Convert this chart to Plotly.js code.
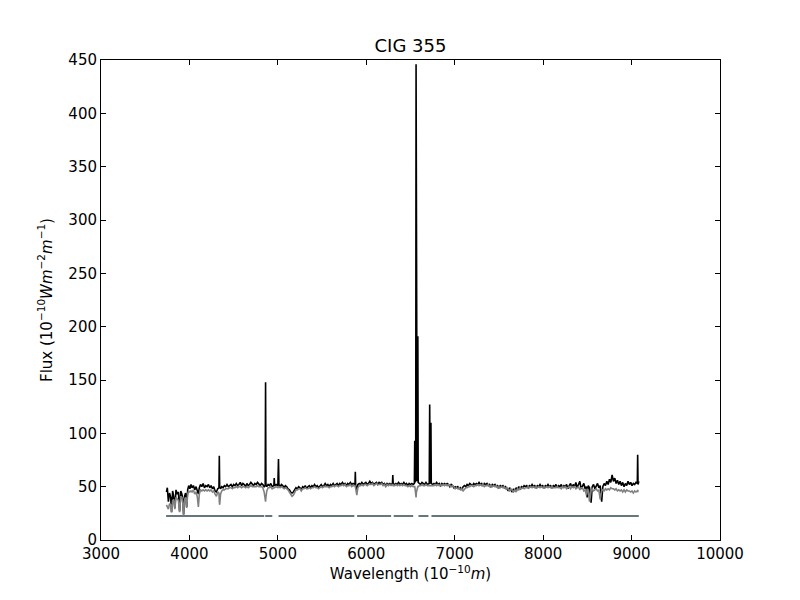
<!DOCTYPE html>
<html>
<head>
<meta charset="utf-8">
<script src="https://cdn.plot.ly/plotly-3.0.1.min.js"></script>
<style>html,body{margin:0;padding:0;background:#fff;}#chart{width:800px;height:600px;}</style>
</head>
<body>
<div id="chart"></div>
<script>
const wavelength = [3740,3750,3762,3775,3788,3798,3810,3822,3835,3848,3860,3875,3889,3902,3915,3925,3934,3945,3957,3969,3980,3992,4005,4018,4030,4045,4060,4075,4090,4101,4112,4125,4140,4155,4170,4185,4200,4215,4230,4245,4260,4275,4290,4305,4320,4334,4338,4342,4352,4365,4380,4395,4410,4425,4440,4455,4470,4485,4500,4515,4530,4545,4560,4575,4590,4605,4620,4635,4650,4665,4680,4695,4710,4725,4740,4755,4770,4785,4800,4815,4830,4845,4857,4861,4865,4875,4890,4905,4920,4935,4955,4959,4963,4980,5000,5007,5012,5025,5040,5055,5070,5085,5100,5115,5130,5145,5160,5175,5190,5205,5220,5235,5250,5265,5280,5295,5310,5325,5340,5355,5370,5385,5400,5415,5430,5445,5460,5475,5490,5505,5520,5535,5550,5565,5580,5595,5610,5625,5640,5655,5670,5685,5700,5715,5730,5745,5760,5775,5790,5805,5820,5835,5850,5872,5876,5880,5893,5905,5920,5935,5950,5965,5980,5995,6010,6025,6040,6055,6070,6085,6100,6115,6130,6145,6160,6175,6190,6205,6220,6235,6250,6265,6280,6296,6300,6304,6320,6335,6350,6365,6380,6395,6410,6425,6440,6455,6470,6485,6500,6515,6530,6544,6548,6552,6559,6563,6567,6575,6583,6587,6600,6615,6630,6645,6660,6675,6690,6712,6717,6722,6727,6731,6735,6750,6765,6780,6795,6810,6825,6840,6855,6870,6885,6900,6915,6930,6945,6960,6975,6990,7005,7020,7035,7050,7065,7080,7095,7110,7125,7140,7155,7170,7185,7200,7215,7230,7245,7260,7275,7290,7305,7320,7335,7350,7365,7380,7395,7410,7425,7440,7455,7470,7485,7500,7515,7530,7545,7560,7575,7590,7605,7620,7635,7650,7665,7680,7695,7710,7725,7740,7755,7770,7785,7800,7815,7830,7845,7860,7875,7890,7905,7920,7935,7950,7965,7980,7995,8010,8025,8040,8055,8070,8085,8100,8115,8130,8145,8160,8175,8190,8205,8220,8235,8250,8265,8280,8295,8310,8325,8340,8355,8370,8385,8400,8415,8430,8445,8460,8475,8490,8498,8510,8525,8542,8555,8570,8585,8600,8615,8630,8645,8662,8675,8690,8705,8720,8735,8750,8765,8780,8795,8810,8825,8840,8855,8870,8885,8900,8915,8930,8945,8960,8975,8990,9005,9020,9035,9050,9065,9069,9073,9082];

const observedFlux = [45,49,36,44,40,26,46,41,30,47,43,45,27,46,43,38,24,41,44,31,47,51,48,52,49,51,47,50,46,43,49,52,50,53,49,51,50,52,49,51,48,50,46,45,48,49,79,50,48,50,49,51,50,52,50,51,52,50,52,51,53,51,52,54,51,53,52,50,53,51,52,54,52,51,53,52,54,52,51,53,52,50,51,148,52,50,52,51,53,50,51,58,51,52,51,76,52,50,52,51,49,51,50,48,47,45,44,45,47,49,48,50,49,47,50,49,51,48,50,51,49,51,50,52,50,51,49,51,52,50,51,53,51,52,50,52,51,53,51,52,53,51,53,52,54,52,53,51,53,52,54,52,53,52,64,51,47,52,53,52,54,52,53,54,52,53,55,53,54,52,53,54,52,54,53,54,52,53,51,53,52,53,52,53,61,53,52,53,52,54,52,53,52,54,52,53,51,53,52,53,52,53,93,54,56,446,58,55,191,54,53,52,54,53,52,54,52,53,127,54,53,110,53,52,53,52,54,52,53,51,53,52,53,52,53,52,50,52,51,49,50,49,50,48,49,47,50,51,50,52,51,53,52,51,53,52,53,52,54,52,53,51,53,52,53,51,52,50,52,51,52,50,51,49,51,50,51,49,50,48,46,49,47,45,48,46,49,47,50,48,50,49,51,50,51,49,51,50,52,50,51,49,51,50,52,50,51,49,51,50,52,50,51,49,51,50,52,49,51,50,52,49,51,50,52,48,51,53,49,52,50,54,49,52,55,48,51,53,48,50,40,51,49,35,50,52,48,50,53,49,51,36,50,53,51,55,52,57,54,61,55,58,53,56,52,55,51,54,50,53,51,55,52,54,51,53,52,54,53,80,52,55];

const modelFlux = [33,31,29,34,33,26,37,38,29,40,39,37,26,41,40,34,23,38,40,30,43,46,45,46,45,47,43,45,40,31,43,47,46,47,46,47,46,47,46,47,45,46,43,41,45,44,36,33,43,46,47,47,48,48,48,49,49,48,49,49,50,49,50,50,49,50,50,49,50,49,50,51,50,50,50,50,51,50,50,50,49,45,38,36,40,46,49,49,50,48,49,49,49,50,49,50,50,49,50,49,48,49,48,47,45,43,41,42,45,47,47,48,48,46,48,48,49,48,48,49,48,49,49,50,49,49,48,49,50,49,50,50,50,50,49,50,50,51,50,51,51,50,51,51,52,51,52,50,51,51,52,50,51,51,50,47,42,49,51,51,52,51,52,52,51,52,52,52,53,51,52,53,52,52,52,53,51,52,50,52,51,52,51,52,52,51,51,52,51,52,51,52,51,52,51,51,50,51,50,51,50,50,50,48,44,40,45,49,50,50,51,51,52,51,51,52,51,51,51,51,51,51,51,51,51,52,51,52,51,52,51,52,51,52,51,52,51,50,51,50,48,49,48,49,47,48,46,48,49,49,50,50,51,51,50,51,51,52,51,52,51,52,50,51,51,52,50,51,50,51,50,51,49,50,49,50,49,50,48,49,47,46,48,46,45,47,45,48,47,49,48,49,48,49,49,50,49,50,49,50,49,50,49,50,49,50,49,50,49,50,49,50,49,50,49,49,49,50,49,49,48,50,49,50,48,49,50,48,50,49,50,48,49,50,47,49,49,46,47,42,48,46,36,46,48,46,47,48,46,47,38,46,47,46,48,47,48,47,49,48,48,47,48,46,47,46,47,45,47,45,47,46,46,45,46,44,46,45,46,45,47];

// Mask (good pixel) segments, drawn at a constant level
const maskStart = [3736,4857,5008,5896,6310,6590,6737];
const maskEnd   = [4846,4937,5865,6281,6530,6703,9082];
const maskLevel = 22.5;

const xTickVals = [3000,4000,5000,6000,7000,8000,9000,10000];
const xTickText = ['3000','4000','5000','6000','7000','8000','9000','10000'];
const yTickVals = [0,50,100,150,200,250,300,350,400,450];

const maskX = [], maskY = [];
for (let i = 0; i < maskStart.length; i++) {
  maskX.push(maskStart[i], maskEnd[i], null);
  maskY.push(maskLevel, maskLevel, null);
}

const font = {family: 'DejaVu Sans, sans-serif', size: 15, color: '#000'};

const traces = [
  {x: maskX, y: maskY, type: 'scatter', mode: 'lines', line: {color: '#66777b', width: 2}, connectgaps: false, hoverinfo: 'skip'},
  {x: wavelength, y: observedFlux, type: 'scatter', mode: 'lines', line: {color: '#000000', width: 1.6}},
  {x: wavelength, y: modelFlux, type: 'scatter', mode: 'lines', line: {color: '#808080', width: 1.6}}
];

const axisCommon = {
  showline: true, linecolor: '#000', linewidth: 1, mirror: 'ticks',
  ticks: 'inside', ticklen: 5, tickwidth: 1, tickcolor: '#000',
  showgrid: false, zeroline: false, tickfont: font
};

const layout = {
  width: 800, height: 600,
  margin: {l: 101, r: 80, t: 60, b: 60},
  paper_bgcolor: '#fff', plot_bgcolor: '#fff',
  showlegend: false,
  font: font,
  title: {text: 'CIG 355', x: 0.5, xref: 'paper', xanchor: 'center', y: 1 - 46/600, yref: 'container', yanchor: 'middle', font: {family: 'DejaVu Sans, sans-serif', size: 18, color: '#000'}},
  xaxis: Object.assign({}, axisCommon, {
    range: [3000, 10000], tickmode: 'array',
    tickvals: xTickVals, ticktext: xTickText,
    title: {text: 'Wavelength (10<sup>−10</sup><i>m</i>)', font: font, standoff: 6}
  }),
  yaxis: Object.assign({}, axisCommon, {
    range: [0, 450], tickmode: 'array',
    tickvals: yTickVals, ticktext: yTickVals.map(String),
    title: {text: 'Flux (10<sup>−10</sup><i>Wm</i><sup>−2</sup><i>m</i><sup>−1</sup>)', font: font, standoff: 12}
  })
};

Plotly.newPlot('chart', traces, layout, {displayModeBar: false, staticPlot: true});
</script>
</body>
</html>
